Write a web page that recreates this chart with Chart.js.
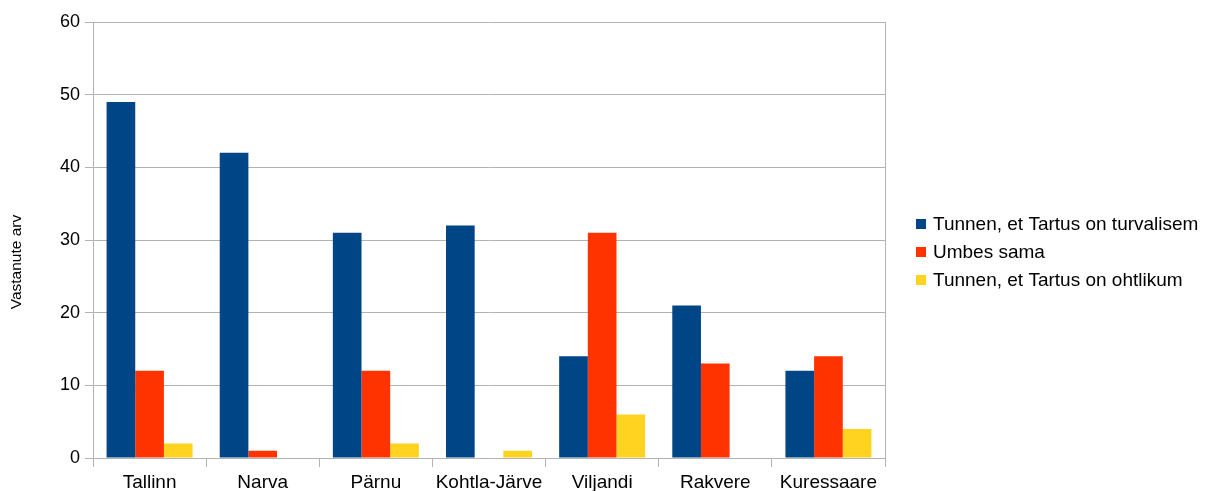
<!DOCTYPE html>
<html>
<head>
<meta charset="utf-8">
<script src="https://cdn.jsdelivr.net/npm/chart.js@4/dist/chart.umd.min.js"></script>
<style>
  html, body { margin: 0; padding: 0; background: #fff; }
  #wrap { position: relative; width: 1210px; height: 491px; }
</style>
</head>
<body>
<div id="wrap"><canvas id="chart" width="1210" height="491"></canvas></div>
<script>
// Linnad ja vastused
const cities = ['Tallinn', 'Narva', 'Pärnu', 'Kohtla-Järve', 'Viljandi', 'Rakvere', 'Kuressaare'];
const saferInTartu = [49, 42, 31, 32, 14, 21, 12];
const aboutSame = [12, 1, 12, 0, 31, 13, 14];
const moreDangerous = [2, 0, 2, 1, 6, 0, 4];
const seriesNames = ['Tunnen, et Tartus on turvalisem', 'Umbes sama', 'Tunnen, et Tartus on ohtlikum'];
const seriesColors = ['#004586', '#ff3300', '#ffd320'];
const yTicks = [0, 10, 20, 30, 40, 50, 60];
const yTitle = 'Vastanute arv';

const FONT = '"Liberation Sans", Arial, sans-serif';
const GRID = '#b3b3b3';

// legend, y title and right border of the plot area
const sideLegend = {
  id: 'sideLegend',
  afterDraw(chart) {
    const ctx = chart.ctx;
    const a = chart.chartArea;
    ctx.save();
    ctx.strokeStyle = GRID;
    ctx.lineWidth = 1;
    ctx.beginPath();
    ctx.moveTo(Math.round(a.right) + 0.5, a.top);
    ctx.lineTo(Math.round(a.right) + 0.5, a.bottom + 9);
    ctx.stroke();

    // y axis title (sits a bit below the axis middle, like the original)
    ctx.save();
    ctx.translate(17, 262);
    ctx.rotate(-Math.PI / 2);
    ctx.font = '15.5px ' + FONT;
    ctx.fillStyle = '#000';
    ctx.textAlign = 'center';
    ctx.textBaseline = 'middle';
    ctx.fillText(yTitle, 0, 0);
    ctx.restore();

    ctx.font = '19px ' + FONT;
    ctx.textBaseline = 'middle';
    chart.data.datasets.forEach((ds, i) => {
      const y = 224 + i * 28;
      ctx.fillStyle = ds.backgroundColor;
      ctx.fillRect(916, y - 5, 10, 10);
      ctx.fillStyle = '#000';
      ctx.fillText(ds.label, 933, y + 1);
    });
    ctx.restore();
  }
};

new Chart(document.getElementById('chart'), {
  type: 'bar',
  data: {
    labels: cities,
    datasets: [saferInTartu, aboutSame, moreDangerous].map((d, i) => ({
      label: seriesNames[i],
      data: d,
      backgroundColor: seriesColors[i],
      borderWidth: 0,
      categoryPercentage: 0.76,
      barPercentage: 1.0
    }))
  },
  options: {
    responsive: false,
    animation: false,
    devicePixelRatio: 1,
    layout: { padding: { top: 22, right: 325, left: 0, bottom: 0 } },
    plugins: {
      legend: { display: false },
      tooltip: { enabled: false }
    },
    scales: {
      x: {
        grid: {
          offset: true,
          drawOnChartArea: false,
          drawTicks: true,
          tickLength: 9,
          color: GRID
        },
        border: { color: GRID },
        ticks: { color: '#000', font: { family: FONT, size: 19 }, padding: 4, maxRotation: 0, autoSkip: false },
        afterFit: s => { s.height = 33; }
      },
      y: {
        min: 0,
        max: 60,
        afterBuildTicks: s => { s.ticks = yTicks.map(v => ({ value: v })); },
        grid: { color: GRID, tickLength: 8 },
        border: { color: GRID },
        ticks: { color: '#000', font: { family: FONT, size: 18 }, padding: 5 },
        afterFit: s => { s.width = 93; }
      }
    }
  },
  plugins: [sideLegend]
});
</script>
</body>
</html>
